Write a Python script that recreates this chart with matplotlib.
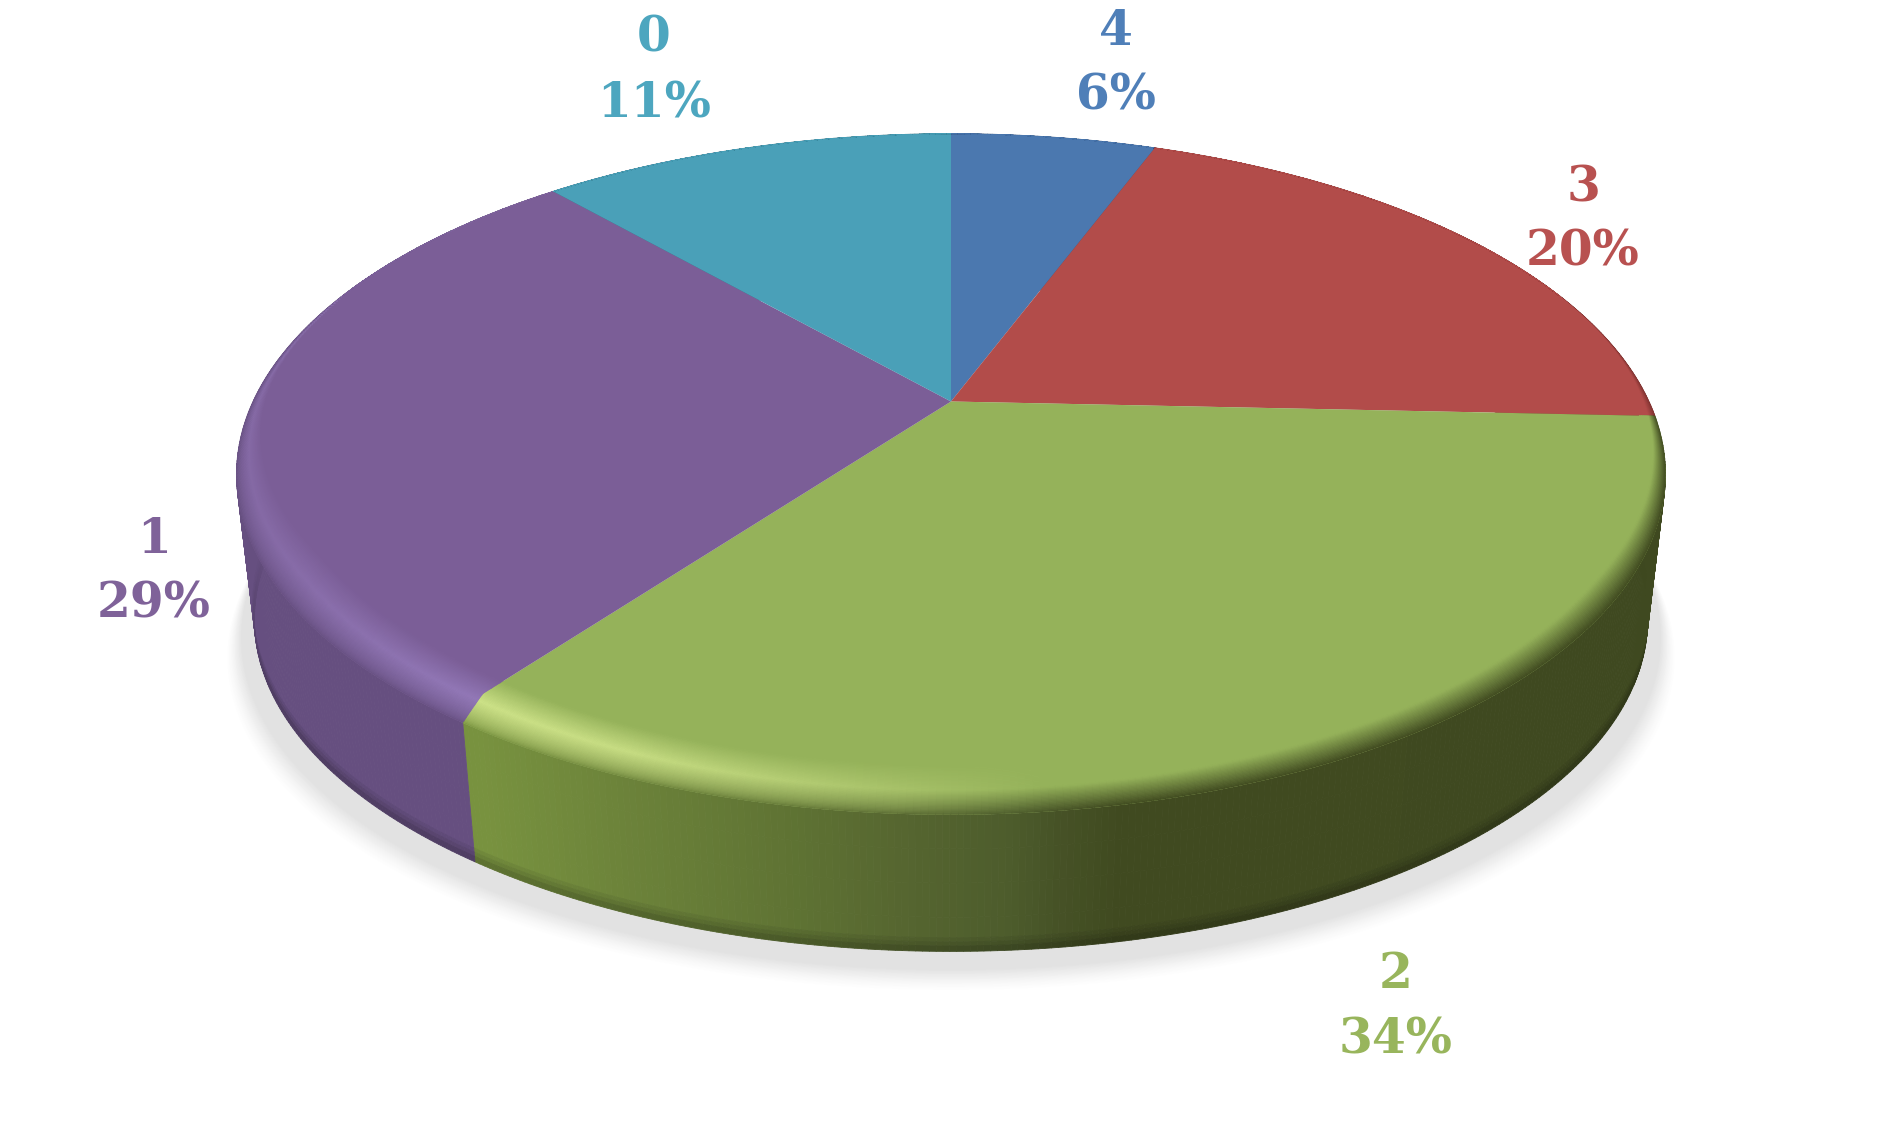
import numpy as np
import matplotlib
matplotlib.use("Agg")
import matplotlib.pyplot as plt
from matplotlib.collections import PolyCollection
from matplotlib.colors import to_rgb
from matplotlib.patches import Polygon

# Datos, en sentido horario desde arriba
categorias = ["4", "3", "2", "1", "0"]
valores = [5.7, 20.0, 34.1, 28.7, 11.5]
etiquetas_pct = ["6%", "20%", "34%", "29%", "11%"]
colores = ["#4B78AF", "#B24C4A", "#95B25A", "#7B5E97", "#4AA0B8"]
colores_texto = ["#4F7FB8", "#B85150", "#98B55C", "#7F6299", "#4DA6BF"]
colores_lateral = ["#36577F", "#7E3230", "#3F4920", "#664F80", "#33707F"]
colores_brillo = [None, None, "#CDE288", "#9379B8", None]

# Posicion de las etiquetas (x, linea de base 1, linea de base 2)
pos_etiquetas = [(1116, 45, 110), (1583, 201, 266), (1396, 988, 1053), (154, 553, 618), (654, 52, 117)]

# Perspectiva del disco
cx, cy = 951.0, 401.5
A, B, k = 698.0, 325.0, 0.2135
escala_base, baja_base = 0.975, 147.0

# Desvio de la linea superior respecto a la esquina del borde (radianes), por frontera
desvios = [0.0, 0.0, 0.0, 0.025, 0.0, 0.0]

# Gradiente del lateral verde segun x
grad_x = [480, 620, 800, 900, 1010, 1060, 1120, 1700]
grad_c = ["#78923F", "#6C833A", "#5E7233", "#566630", "#4D5C2C", "#465226", "#404A20", "#3F4920"]


def borde(theta, escala=1.0, baja=0.0):
    u, v = np.sin(theta), np.cos(theta)
    d = 1 + k * v
    return cx + escala * A * u / d, cy + baja - escala * B * v / d


def mezcla(c1, c2, t):
    c1, c2 = np.array(c1), np.array(c2)
    return c1 + (c2 - c1) * t


def color_lateral(i, x, fila, v=-1.0):
    if categorias[i] == "2":
        base = np.array([np.interp(x, grad_x, [to_rgb(c)[j] for c in grad_c]) for j in range(3)])
    else:
        base = np.array(to_rgb(colores_lateral[i]))
    # oscurecer un poco el borde inferior, solo en la parte de delante
    if fila > 0.9:
        base = base * (1 - 0.22 * np.clip(-v * 2.5, 0, 1) * (fila - 0.9) / 0.1)
    return np.clip(base, 0, 1)


def fuerza_brillo(i, x):
    if categorias[i] == "2":
        return np.interp(x, [470, 620, 800, 1050], [1.0, 0.9, 0.55, 0.0])
    if categorias[i] == "1":
        return np.interp(x, [240, 300, 470], [0.45, 0.6, 1.0])
    return 0.0


def punto(a, t):
    x, y = borde(a)
    v = np.cos(a)
    ancho = np.clip((0.35 - v) / 0.9, 0, 1)
    return x - (x - cx) * 0.045 * t * ancho ** 0.5, y - 50 * t * ancho


def esquina(a, d):
    x, y = borde(a + d)
    return cx + (x - cx) * 0.93, cy + (y - cy) * 0.93


fig = plt.figure(figsize=(19.02, 11.30), dpi=100)
ax = fig.add_axes([0, 0, 1, 1])
ax.set_xlim(0, 1902)
ax.set_ylim(1130, 0)
ax.axis("off")

# Sombra difusa bajo el disco
th = np.linspace(0, 2 * np.pi, 400)
pasos = np.linspace(1, 0, 30)
for p in pasos:
    xs, ys = borde(th, escala_base, baja_base)
    xs = cx + (xs - cx) * (1 + 0.018 + 0.022 * p)
    ys = ys + 18 + 22 * p
    gris = 1 - 0.115 * (1 - p) ** 1.3
    ax.fill(xs, ys, color=(gris, gris, gris), lw=0, zorder=1)

# Angulos de cada porcion
acumulado = np.cumsum([0] + valores) / sum(valores) * 2 * np.pi

# Lateral del disco
for i in range(len(valores)):
    n = max(int(valores[i] * 8), 8)
    ang = np.linspace(acumulado[i], acumulado[i + 1], n + 1)
    polys, cols = [], []
    filas = np.array([0, 0.25, 0.5, 0.75, 0.9, 0.93, 0.96, 1.0])
    for j in range(n):
        x1a, y1a = borde(ang[j])
        x1b, y1b = borde(ang[j + 1])
        x2a, y2a = borde(ang[j], escala_base, baja_base)
        x2b, y2b = borde(ang[j + 1], escala_base, baja_base)
        v = np.cos(ang[j])
        for f in range(len(filas) - 1):
            f1, f2 = filas[f], filas[f + 1]
            polys.append([
                (x1a + (x2a - x1a) * f1, y1a + (y2a - y1a) * f1),
                (x1b + (x2b - x1b) * f1, y1b + (y2b - y1b) * f1),
                (x1b + (x2b - x1b) * f2, y1b + (y2b - y1b) * f2),
                (x1a + (x2a - x1a) * f2, y1a + (y2a - y1a) * f2),
            ])
            cols.append(color_lateral(i, (x1a + x1b) / 2, f2, v))
    ax.add_collection(PolyCollection(polys, facecolors=cols, edgecolors=cols, linewidths=0.6, zorder=2))

# Cara superior y bisel
for i in range(len(valores)):
    n = max(int(valores[i] * 8), 8)
    ang = np.linspace(acumulado[i], acumulado[i + 1], n + 1)
    xs, ys = borde(ang)
    e1 = esquina(acumulado[i], desvios[i])
    e2 = esquina(acumulado[i + 1], desvios[i + 1])
    px = np.r_[cx, e1[0], xs, e2[0]]
    py = np.r_[cy, e1[1], ys, e2[1]]
    ax.fill(px, py, color=colores[i], lw=0, zorder=3)
    recorte = Polygon(np.c_[px, py], closed=True, transform=ax.transData)

    base = to_rgb(colores[i])
    # el bisel se pasa un poco de la porcion y se recorta con ella
    ang2 = np.linspace(acumulado[i] - 0.15, acumulado[i + 1] + 0.15, n + 13)
    ts = np.linspace(0, 1, 41)
    polys, cols = [], []
    for j in range(len(ang2) - 1):
        xm = borde((ang2[j] + ang2[j + 1]) / 2)[0]
        a = fuerza_brillo(i, xm)
        pico = base if colores_brillo[i] is None else mezcla(base, to_rgb(colores_brillo[i]), a)
        lado = color_lateral(i, xm, 0)
        # sin brillo la transicion es mas suave
        curva = 1.0 - 0.4 * min(a * 3, 1.0)
        for f in range(len(ts) - 1):
            t1, t2 = ts[f], ts[f + 1]
            polys.append([punto(ang2[j], t1), punto(ang2[j + 1], t1), punto(ang2[j + 1], t2), punto(ang2[j], t2)])
            tm = (t1 + t2) / 2
            if tm < 0.5:
                c = mezcla(lado, pico, (tm / 0.5) ** curva)
            else:
                c = mezcla(pico, base, (tm - 0.5) / 0.5)
            cols.append(c)
    banda = PolyCollection(polys, facecolors=cols, edgecolors=cols, linewidths=0.5, zorder=4)
    ax.add_collection(banda)
    banda.set_clip_path(recorte)

# Etiquetas
for i in range(len(categorias)):
    x, b1, b2 = pos_etiquetas[i]
    ax.text(x, b1, categorias[i], color=colores_texto[i], fontsize=35, fontweight="bold",
            family="DejaVu Serif", ha="center", va="baseline", zorder=5)
    ax.text(x, b2, etiquetas_pct[i], color=colores_texto[i], fontsize=35, fontweight="bold",
            family="DejaVu Serif", ha="center", va="baseline", zorder=5)

fig.savefig("out.png", dpi=100, facecolor="white")
